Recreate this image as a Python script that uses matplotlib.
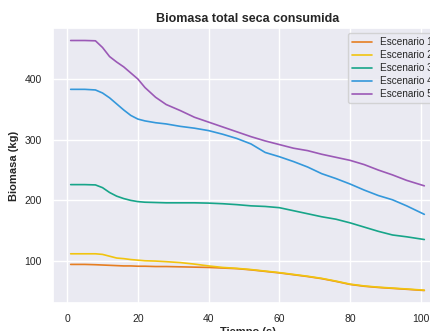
import matplotlib
matplotlib.use("Agg")
import matplotlib.pyplot as plt
import seaborn as sns

tiempo = [1, 5, 8, 10, 12, 14, 16, 18, 20, 22, 25, 28, 32, 36, 40, 44, 48, 52, 56, 60,
          64, 68, 72, 76, 80, 84, 88, 92, 96, 101]

esc1 = [94.5, 94.5, 94, 93.5, 93, 92.5, 92, 92, 91.5, 91.5, 91, 91, 90.5, 90, 89.5, 88.5,
        87.5, 85.5, 83, 80.5, 77.5, 74.5, 71, 66.5, 61.5, 58.5, 56.5, 55, 53.5, 51.5]
esc2 = [112, 112, 112, 111, 108, 105, 104, 102.5, 101.5, 100.5, 100, 99, 97.5, 95, 92, 89.5,
        88, 86, 83.5, 81, 78, 75, 71.5, 67, 62, 59, 57, 55.5, 54, 52]
esc3 = [226, 226, 225.5, 221, 213, 207, 203, 200, 198, 197, 196.5, 196, 196, 196, 195.5, 194.5,
        193, 191, 190, 188, 183, 178, 173, 169, 163, 156, 149, 143, 140, 135.5]
esc4 = [383, 383, 382, 377, 369, 359, 349, 340, 334, 331, 328, 326, 322, 319, 315, 309,
        302, 293, 279, 272, 264, 255, 244, 236, 227, 217, 208, 201, 191, 177]
esc5 = [463.5, 463.5, 463, 452, 437, 428, 420, 410, 400, 386, 370, 358, 348, 337, 329, 321,
        313, 305, 298, 292, 286, 282, 276, 271, 266, 259, 250, 242, 233, 224]

series = [esc1, esc2, esc3, esc4, esc5]
labels = ["Escenario 1", "Escenario 2", "Escenario 3", "Escenario 4", "Escenario 5"]
colors = ["#E67E22", "#F1C40F", "#17A589", "#3498DB", "#9B59B6"]

sns.set_theme(style="darkgrid")
plt.rcParams['font.family'] = ['Liberation Sans', 'DejaVu Sans']

fig = plt.figure(figsize=(4.30, 3.31), dpi=100)
ax = fig.add_axes([53/430, 1 - 303/331, (442 - 53)/430, (303 - 28)/331])

for vals, lab, col in zip(series, labels, colors):
    ax.plot(tiempo, vals, color=col, label=lab, linewidth=1.2)

ax.set_title("Biomasa total seca consumida", fontsize=9, fontweight="bold", pad=4)
ax.set_xlabel("Tiempo (s)", fontsize=8, fontweight="bold", labelpad=2)
ax.set_ylabel("Biomasa (kg)", fontsize=8, fontweight="bold", labelpad=4)
ax.set_xticks([0, 20, 40, 60, 80, 100])
ax.set_yticks([100, 200, 300, 400])
ax.tick_params(labelsize=7.5, pad=2)
ax.legend(loc="upper right", fontsize=7.2, labelspacing=0.3)

fig.savefig("out.png", dpi=100)
